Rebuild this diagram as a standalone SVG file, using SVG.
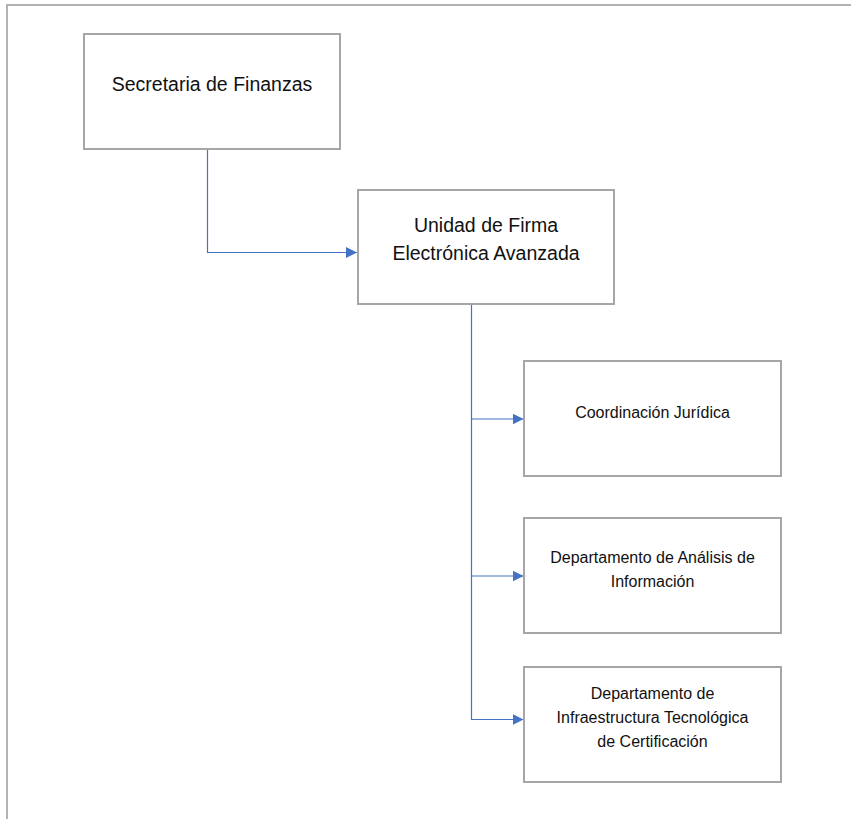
<svg xmlns="http://www.w3.org/2000/svg" width="851" height="819" viewBox="0 0 851 819">
<defs>
<style>
.frame{fill:none;stroke:#b3b3b3;stroke-width:2}
.box{fill:#ffffff;stroke:#a6a6a6;stroke-width:2}
.conn{fill:none;stroke:#4472c4;stroke-width:1.2}
.t{font-family:"Liberation Sans",Arial,sans-serif;fill:#111111;text-anchor:middle}
.big{font-size:19.5px}
.small{font-size:16px}
</style>
<marker id="arr" viewBox="0 0 10 10" refX="10" refY="5" markerWidth="11" markerHeight="11" markerUnits="userSpaceOnUse" orient="auto">
<path d="M0,0 L10,5 L0,10 Z" fill="#4472c4"/>
</marker>
</defs>
<rect width="851" height="819" fill="#ffffff"/>
<path class="frame" d="M7,819 V5 H851"/>
<g id="connectors">
<path class="conn" d="M207.5,149 V252.5 H357" marker-end="url(#arr)"/>
<path class="conn" d="M471.5,304 V719.5 H523.5" marker-end="url(#arr)"/>
<path class="conn" d="M471.5,419 H523.5" marker-end="url(#arr)"/>
<path class="conn" d="M471.5,576 H523.5" marker-end="url(#arr)"/>
</g>
<g id="secretaria">
<rect class="box" x="84" y="34" width="256" height="115"/>
<text class="t big" x="212" y="91">Secretaria de Finanzas</text>
</g>
<g id="unidad">
<rect class="box" x="358" y="190" width="256" height="114"/>
<text class="t big" x="486" y="232">Unidad de Firma</text>
<text class="t big" x="486" y="260">Electrónica Avanzada</text>
</g>
<g id="coordinacion">
<rect class="box" x="524" y="361" width="257" height="115"/>
<text class="t small" x="652.5" y="418">Coordinación Jurídica</text>
</g>
<g id="analisis">
<rect class="box" x="524" y="518" width="257" height="115"/>
<text class="t small" x="652.5" y="563">Departamento de Análisis de</text>
<text class="t small" x="652.5" y="587">Información</text>
</g>
<g id="infraestructura">
<rect class="box" x="524" y="667" width="257" height="115"/>
<text class="t small" x="652.5" y="699">Departamento de</text>
<text class="t small" x="652.5" y="723">Infraestructura Tecnológica</text>
<text class="t small" x="652.5" y="747">de Certificación</text>
</g>
</svg>
